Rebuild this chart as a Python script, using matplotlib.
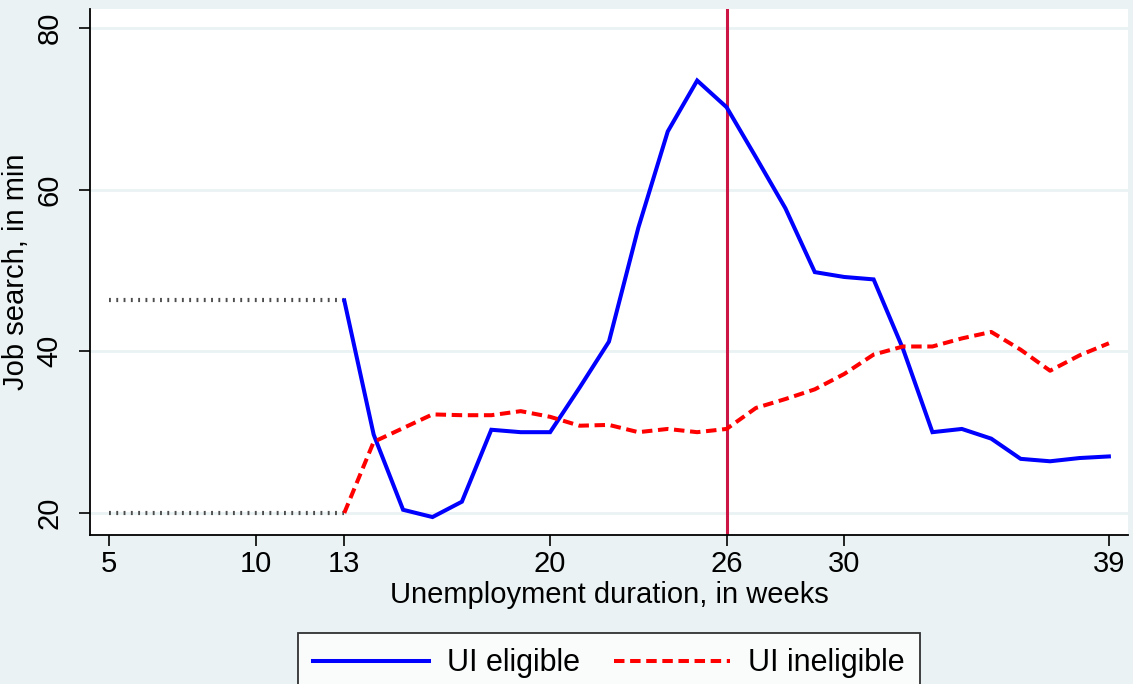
import matplotlib
matplotlib.use("Agg")
import matplotlib.pyplot as plt
from matplotlib.lines import Line2D

# Weekly job-search minutes by unemployment duration
weeks = list(range(13, 40))
ui_eligible = [46.3, 29.7, 20.4, 19.5, 21.4, 30.3, 30.0, 30.0, 35.5, 41.2,
               55.3, 67.2, 73.5, 70.2, 64.0, 57.7, 49.8, 49.2, 48.9, 40.3,
               30.0, 30.4, 29.2, 26.7, 26.4, 26.8, 27.0]
ui_ineligible = [20.0, 28.8, 30.5, 32.2, 32.1, 32.1, 32.6, 31.9, 30.8, 30.9,
                 30.0, 30.4, 30.0, 30.4, 33.0, 34.1, 35.3, 37.2, 39.6, 40.6,
                 40.6, 41.6, 42.4, 40.2, 37.6, 39.5, 41.0]
# Pre-period reference span (weeks) carrying the week-13 levels
pre_span = [5, 13]
benefit_exhaustion_week = 26

xticks = [5, 10, 13, 20, 26, 30, 39]
yticks = [20, 40, 60, 80]

BG = "#EAF2F3"
FONT = "Liberation Sans"
FS = 21

plt.rcParams["font.family"] = [FONT, "DejaVu Sans"]

fig = plt.figure(figsize=(11.33, 6.84), dpi=100, facecolor=BG)
ax = fig.add_axes([90 / 1133, 1 - 535 / 684, (1128 - 90) / 1133, (535 - 9) / 684])
ax.set_facecolor("white")

ax.set_xlim(4.354, 39.65)
ax.set_ylim(17.28, 82.35)

# horizontal grid
for yv in yticks:
    ax.axhline(yv, color=BG, lw=2.0, zorder=0.5)

# pre-period dotted levels
for level in (ui_eligible[0], ui_ineligible[0]):
    ax.plot(pre_span, [level, level], color="#4d4d4d", lw=3.0,
            linestyle=(0, (0.45, 1.3)), dash_capstyle="butt",
            solid_capstyle="butt", zorder=2)

ax.plot(weeks, ui_eligible, color="#0000FF", lw=2.9, zorder=3,
        solid_joinstyle="miter")
ax.plot(weeks, ui_ineligible, color="#FF0000", lw=2.9, zorder=3,
        linestyle=(0, (2.6, 1.4)), dash_capstyle="butt")

ax.axvline(benefit_exhaustion_week, color="#CC1544", lw=2.2, zorder=2.5)

for side in ("top", "right"):
    ax.spines[side].set_visible(False)
for side in ("left", "bottom"):
    ax.spines[side].set_linewidth(1.3)
    ax.spines[side].set_color("black")

ax.set_xticks(xticks)
ax.set_xticklabels([str(v) for v in xticks])
ax.set_yticks(yticks)
ax.set_yticklabels([str(v) for v in yticks], rotation=90, va="center")
ax.tick_params(axis="both", direction="out", length=8, width=1.2,
               labelsize=FS, colors="black")
ax.tick_params(axis="x", pad=3)
ax.tick_params(axis="y", pad=11)

ax.set_xlabel("Unemployment duration, in weeks", fontsize=FS, labelpad=2)
ax.set_ylabel("Job search, in min", fontsize=FS, labelpad=4)

handles = [
    Line2D([], [], color="#0000FF", lw=2.9),
    Line2D([], [], color="#FF0000", lw=2.9, linestyle=(0, (2.6, 1.4)),
           dash_capstyle="butt"),
]
leg = fig.legend(handles, ["UI eligible", "UI ineligible"], ncol=2,
                 loc="upper center", bbox_to_anchor=(609 / 1133, 1 - 633 / 684),
                 fontsize=22, frameon=True, fancybox=False, handlelength=3.8,
                 handletextpad=0.6, columnspacing=1.1, borderpad=0.5,
                 borderaxespad=0)
leg.get_frame().set_edgecolor("black")
leg.get_frame().set_linewidth(1.3)
leg.get_frame().set_facecolor("white")

fig.savefig("out.png", dpi=100, facecolor=BG)
